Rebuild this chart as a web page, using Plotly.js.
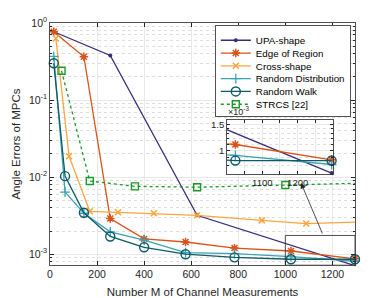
<!DOCTYPE html>
<html><head><meta charset="utf-8">
<script src="https://cdn.plot.ly/plotly-3.0.1.min.js"></script>
<style>html,body{margin:0;padding:0;background:#fff}#chart{width:392px;height:298px}</style>
</head><body><div id="chart"></div>
<script>
// ---- data ----
const M_upa = [16, 256, 625, 1296];
const err_upa = [0.77, 0.38, 3.2e-3, 0.71e-3];
const M_edge = [16, 144, 256, 400, 576, 784, 1024, 1296];
const err_edge = [0.77, 0.365, 2.9e-3, 1.58e-3, 1.44e-3, 1.2e-3, 1.1e-3, 0.87e-3];
const M_cross = [25, 81, 169, 289, 441, 625, 900, 1089, 1369];
const err_cross = [0.63, 0.0187, 3.6e-3, 3.5e-3, 3.4e-3, 3.2e-3, 2.75e-3, 2.5e-3, 2.65e-3];
const M_rand = [16, 64, 144, 256, 400, 576, 784, 1024, 1296];
const err_rd = [0.37, 6.4e-3, 3.4e-3, 1.95e-3, 1.52e-3, 1.05e-3, 1.02e-3, 0.93e-3, 0.81e-3];
const err_rw = [0.30, 0.0103, 3.45e-3, 1.7e-3, 1.23e-3, 1.0e-3, 0.91e-3, 0.86e-3, 0.86e-3];
const M_strcs = [49, 169, 361, 625, 1000, 1369];
const err_strcs = [0.24, 8.9e-3, 7.6e-3, 7.4e-3, 7.9e-3, 8.4e-3];
const names = ['UPA-shape', 'Edge of Region', 'Cross-shape', 'Random Distribution', 'Random Walk', 'STRCS [22]'];
const yTickVals = [1e-3, 1e-2, 1e-1, 1];
const yTickText = ['10<sup>-3</sup>', '10<sup>-2</sup>', '10<sup>-1</sup>', '10<sup>0</sup>'];
const xTickVals = [0, 200, 400, 600, 800, 1000, 1200];
const insetXTicks = [1100, 1200];
const insetXMinor = [1050, 1150, 1250];
const insetYTicks = [1e-3, 1.5e-3];
const insetYText = ['1', '1.5'];
const insetYMinor = [0.8e-3, 0.9e-3, 1.1e-3, 1.2e-3, 1.3e-3, 1.4e-3];

const styles = [
  {color:'#3b2d7e', symbol:'circle', size:4, lw:0, dash:'solid', clip:false},
  {color:'#d95319', symbol:'asterisk-open', size:7, lw:1.5, dash:'solid', clip:false},
  {color:'#fba63c', symbol:'x-thin-open', size:6, lw:1.5, dash:'solid', clip:true},
  {color:'#3aa3b4', symbol:'cross-thin-open', size:7, lw:1.3, dash:'solid', clip:false},
  {color:'#0e5a67', symbol:'circle-open', size:9, lw:1.4, dash:'solid', clip:false},
  {color:'#1a9a2a', symbol:'square-open', size:7, lw:1.4, dash:'dot', clip:true}
];
const series = [[M_upa, err_upa], [M_edge, err_edge], [M_cross, err_cross], [M_rand, err_rd], [M_rand, err_rw], [M_strcs, err_strcs]];

const traces = [];
['x', 'x2'].forEach((xa, k) => {
  series.forEach((s, i) => {
    const st = styles[i];
    traces.push({
      x: s[0], y: s[1], mode: 'lines+markers', name: names[i], showlegend: k === 0,
      line: {color: st.color, width: 1.3, dash: st.dash},
      marker: {symbol: st.symbol, size: st.size, color: st.color, line: {color: st.color, width: st.lw}},
      cliponaxis: st.clip, xaxis: xa, yaxis: k === 0 ? 'y' : 'y2'
    });
  });
});

const minorY = [];
for (let e = -4; e <= 0; e++) for (let d = 2; d <= 9; d++) minorY.push(d * Math.pow(10, e));

const fam = 'Liberation Sans, Arial, sans-serif';
const layout = {
  width: 392, height: 298,
  margin: {l: 50, r: 37, t: 23, b: 33},
  paper_bgcolor: '#ffffff', plot_bgcolor: '#ffffff',
  font: {family: fam, size: 10.5, color: '#262626'},
  showlegend: true,
  legend: {x: 0.541, y: 0.992, xanchor: 'left', yanchor: 'top', bgcolor: '#ffffff',
    bordercolor: '#262626', borderwidth: 0.8, font: {family: fam, size: 9.8, color: '#000'},
    itemwidth: 30, tracegroupgap: 0},
  xaxis: {domain: [0, 1], range: [0, 1296], tickvals: xTickVals, ticks: 'inside', ticklen: 4,
    showline: true, mirror: 'ticks', linecolor: '#262626', linewidth: 0.8, tickcolor: '#262626',
    showgrid: true, gridcolor: '#e3e3e3', gridwidth: 0.8, zeroline: false,
    title: {text: 'Number M of Channel Measurements', font: {size: 11.5, color: '#262626'}, standoff: 8}},
  yaxis: {domain: [0, 1], type: 'log', range: [-3.14, 0], tickvals: yTickVals, ticktext: yTickText,
    ticks: 'inside', ticklen: 4, showline: true, mirror: 'ticks', linecolor: '#262626', linewidth: 0.8, tickcolor: '#262626',
    showgrid: true, gridcolor: '#e3e3e3', gridwidth: 0.8, zeroline: false,
    minor: {tickvals: minorY, showgrid: true, gridcolor: '#d6d6d6', griddash: 'dot', gridwidth: 0.8, ticks: 'inside', ticklen: 2, tickcolor: '#262626'},
    title: {text: 'Angle Errors of MPCs', font: {size: 11.5, color: '#262626'}, standoff: 5}},
  xaxis2: {domain: [0.580, 0.928], anchor: 'y2', range: [1000, 1300], tickvals: insetXTicks,
    ticks: 'inside', ticklen: 3, showline: true, mirror: 'ticks', linecolor: '#262626', linewidth: 0.8, tickcolor: '#262626',
    showgrid: true, gridcolor: '#e3e3e3', gridwidth: 0.8, zeroline: false, tickfont: {size: 9.5, color: '#262626'},
    minor: {tickvals: insetXMinor, showgrid: true, gridcolor: '#e3e3e3', gridwidth: 0.8, ticks: 'inside', ticklen: 3, tickcolor: '#262626'}},
  yaxis2: {domain: [0.376, 0.599], anchor: 'x2', type: 'log', range: [Math.log10(0.7e-3), Math.log10(1.6e-3)],
    tickvals: insetYTicks, ticktext: insetYText,
    ticks: 'inside', ticklen: 3, showline: true, mirror: 'ticks', linecolor: '#262626', linewidth: 0.8, tickcolor: '#262626',
    showgrid: true, gridcolor: '#e3e3e3', gridwidth: 0.8, zeroline: false, tickfont: {size: 9.5, color: '#262626'},
    minor: {tickvals: insetYMinor, showgrid: true, gridcolor: '#d6d6d6', griddash: 'dot', gridwidth: 0.8, ticks: 'inside', ticklen: 2, tickcolor: '#262626'}},
  shapes: [
    {type: 'rect', xref: 'x', yref: 'y', x0: 1000, x1: 1296, y0: 0.72e-3, y1: 1.75e-3,
      line: {color: '#262626', width: 0.8}, fillcolor: 'rgba(0,0,0,0)', layer: 'above'}
  ],
  annotations: [
    {xref: 'paper', yref: 'paper', x: 0.823, y: 0.339, ax: 22, ay: 52, axref: 'pixel', ayref: 'pixel',
      showarrow: true, arrowhead: 2, arrowsize: 1.4, arrowwidth: 0.8, arrowcolor: '#262626', text: ''},
    {xref: 'paper', yref: 'paper', x: 0.578, y: 0.605, xanchor: 'left', yanchor: 'bottom', showarrow: false,
      text: '×10<sup>-3</sup>', font: {size: 9, color: '#262626'}}
  ]
};
const gd = document.getElementById('chart');
Plotly.newPlot(gd, traces, layout, {staticPlot: true, displayModeBar: false}).then(() => {
  // tighten legend row spacing to match the reference
  const items = gd.querySelectorAll('.legend .traces');
  const sp = 12.8;
  const pos = [];
  items.forEach(g => {
    const m = /translate\(\s*([-\d.e]+)[\s,]+([-\d.e]+)\s*\)/.exec(g.getAttribute('transform') || '');
    pos.push(m ? [parseFloat(m[1]), parseFloat(m[2])] : [0, 0]);
  });
  if (pos.length > 1) {
    const orig = pos[1][1] - pos[0][1];
    items.forEach((g, i) => g.setAttribute('transform', 'translate(' + pos[i][0] + ',' + (pos[0][1] + i * sp) + ')'));
    const bg = gd.querySelector('.legend rect.bg');
    if (bg) {
      const h = parseFloat(bg.getAttribute('height'));
      bg.setAttribute('height', h - (pos.length - 1) * (orig - sp) - 3);
    }
  }
});
</script>
</body></html>
